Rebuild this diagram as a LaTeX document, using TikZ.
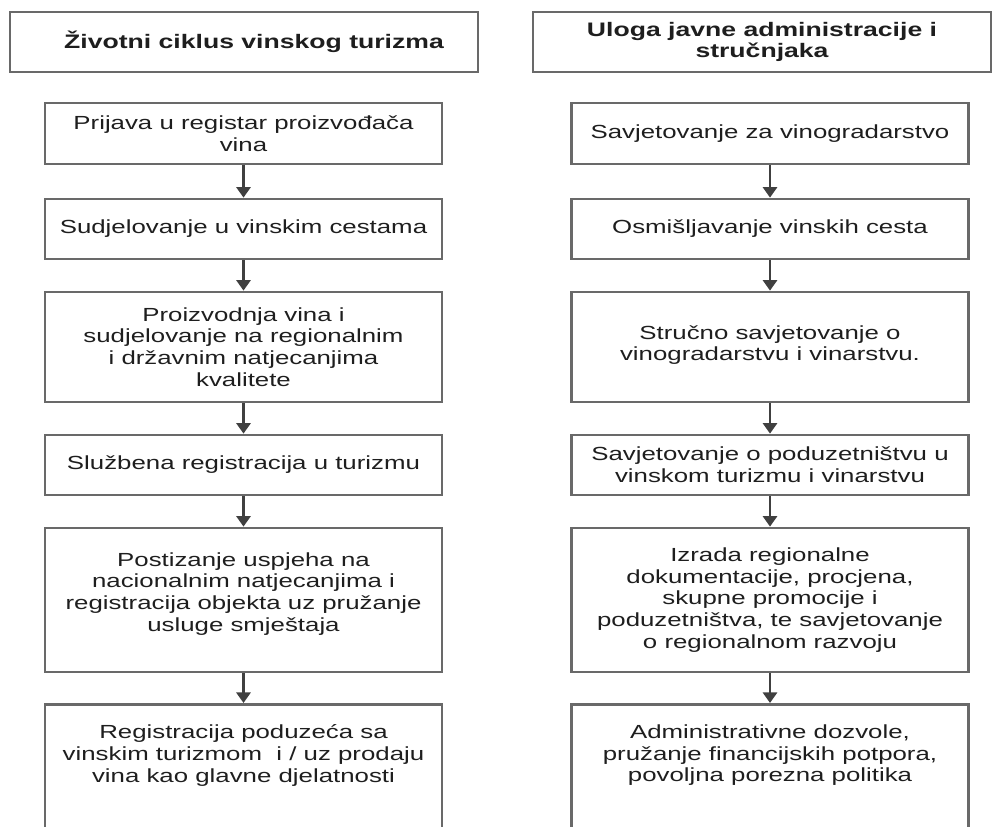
\documentclass[tikz,border=0pt]{standalone}
\usepackage{fontspec}
\setmainfont{Liberation Sans}[FakeStretch=1.36]
\usetikzlibrary{arrows.meta}
\definecolor{boxgray}{RGB}{105,105,105}
\definecolor{inkgray}{RGB}{30,30,30}
\begin{document}
\begin{tikzpicture}[x=0.025cm, y=-0.025cm,
  stage/.style={draw=boxgray, line width=1.9pt, minimum width=9.925cm, inner sep=0pt,
    align=center, text=inkgray, font=\fontsize{13.5}{15.5}\selectfont},
  head/.style={stage, font=\fontsize{13.9}{15.5}\selectfont\bfseries},
  words/.style={inner sep=0pt, align=center, text=inkgray, font=\fontsize{13.5}{15.5}\selectfont},
  flow/.style={draw=inkgray!85!white, line width=1.9pt, -{Triangle[width=10pt,length=7.5pt]}}]
\useasboundingbox (0,0) rectangle (993,827);

% column headers
\node[head, minimum width=11.7cm, minimum height=1.5cm] (lhead) at (244,42) {\hspace*{0.5cm}Životni ciklus vinskog turizma};
\node[head, minimum width=11.45cm, minimum height=1.5cm] (rhead) at (762,42) {Uloga javne administracije i\\ stručnjaka};

% left column
\node[stage, minimum height=1.525cm] (l1) at (243.5,133.5) {Prijava u registar proizvođača\\ vina};
\node[stage, minimum height=1.5cm] (l2) at (243.5,229) {Sudjelovanje u vinskim cestama};
\node[stage, minimum height=2.75cm] (l3) at (243.5,347) {Proizvodnja vina i\\ sudjelovanje na regionalnim\\ i državnim natjecanjima\\ kvalitete};
\node[stage, minimum height=1.5cm] (l4) at (243.5,465) {Službena registracija u turizmu};
\node[stage, minimum height=3.6cm] (l5) at (243.5,600) {Postizanje uspjeha na\\ nacionalnim natjecanjima i\\ registracija objekta uz pružanje\\ usluge smještaja\\[-4pt]};
\node[stage, minimum height=4cm, anchor=north] (l6) at (243.5,703) {};
\node[words, anchor=north] (l6txt) at ([yshift=-0.53cm]l6.north) {Registracija poduzeća sa\\ vinskim turizmom\ \ i / uz prodaju\\ vina kao glavne djelatnosti};

% right column
\node[stage, minimum height=1.525cm] (r1) at (770,133.5) {Savjetovanje za vinogradarstvo};
\node[stage, minimum height=1.5cm] (r2) at (770,229) {Osmišljavanje vinskih cesta};
\node[stage, minimum height=2.75cm] (r3) at (770,347) {Stručno savjetovanje o\\ vinogradarstvu i vinarstvu.\\[-10pt]};
\node[stage, minimum height=1.5cm] (r4) at (770,465) {Savjetovanje o poduzetništvu u\\ vinskom turizmu i vinarstvu};
\node[stage, minimum height=3.6cm] (r5) at (770,600) {Izrada regionalne\\ dokumentacije, procjena,\\ skupne promocije i\\ poduzetništva, te savjetovanje\\ o regionalnom razvoju};
\node[stage, minimum height=4cm, anchor=north] (r6) at (770,703) {};
\node[words, anchor=north] (r6txt) at ([yshift=-0.53cm]r6.north) {Administrativne dozvole,\\ pružanje financijskih potpora,\\ povoljna porezna politika};

% arrows
\foreach \a/\b in {1/2,2/3,3/4,4/5,5/6}{
  \draw[flow] (l\a) -- (l\b);
  \draw[flow] (r\a) -- (r\b);
}
\end{tikzpicture}
\end{document}
